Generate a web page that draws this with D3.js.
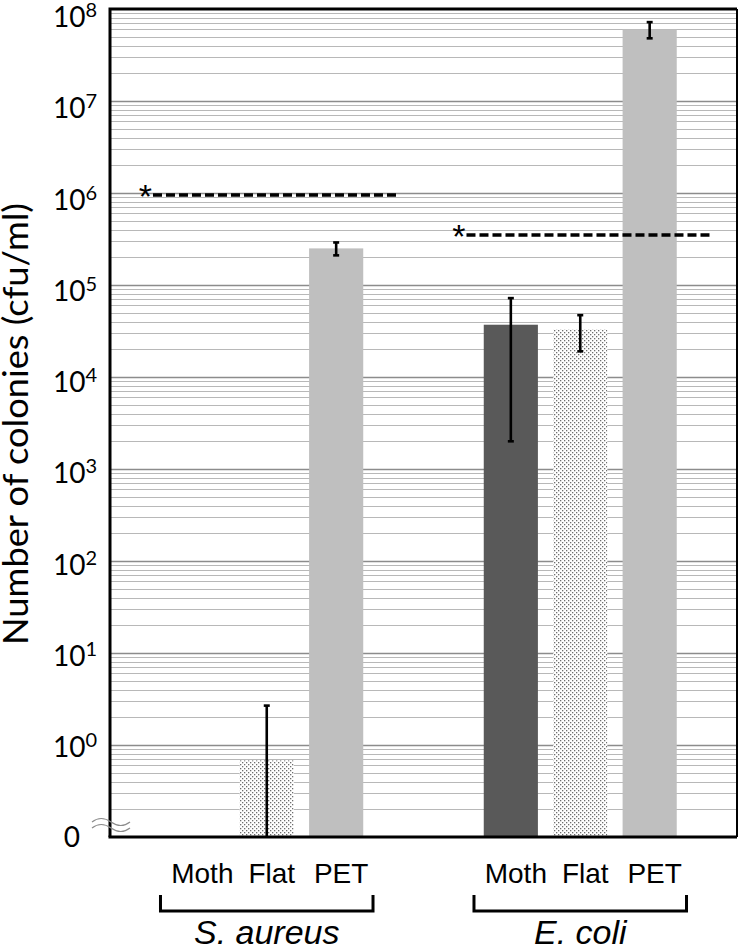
<!DOCTYPE html>
<html>
<head>
<meta charset="utf-8">
<script src="https://cdn.jsdelivr.net/npm/d3@7"></script>
<style>
  body { margin: 0; background: #fff; }
  svg { display: block; }
</style>
</head>
<body>
<svg id="chart" width="740" height="947"></svg>
<script>
// values (cfu/ml), 0 = nothing grew
var groups = ["S. aureus", "E. coli"];
var surfaces = ["Moth", "Flat", "PET"];
var sAureusMean = [0, 0.68, 2.5e5];
var sAureusErr = [0, 2.0, 0.4e5];
var eColiMean = [3.7e4, 3.3e4, 6.0e7];
var eColiErr = [3.5e4, 1.4e4, 1.2e7];
var thresholds = [9.5e5, 3.5e5];   // dashed "*" lines, one per group
var tickExps = [0, 1, 2, 3, 4, 5, 6, 7, 8];

var means = [sAureusMean, eColiMean];
var errs = [sAureusErr, eColiErr];

// note: "top" is taken by window.top, so plot* names
var plotL = 110, plotR = 737, plotT = 9, plotB = 837;
var svg = d3.select("#chart");

var y = d3.scaleLog().domain([0.1, 1e8]).range([plotB, plotT]).clamp(true);
function yv(v) { return v <= 0.1 ? plotB : y(v); }

var x0 = d3.scaleBand().domain(groups).range([plotL, plotR])
  .paddingInner(0.287).paddingOuter(0.1435);
var x1 = d3.scaleBand().domain(surfaces).range([0, x0.bandwidth()])
  .padding(0.22);

var fills = { "Moth": "#595959", "Flat": "url(#dots)", "PET": "#bfbfbf" };

// dotted fill for the flat surface
var pat = svg.append("defs").append("pattern").attr("id", "dots")
  .attr("patternUnits", "userSpaceOnUse").attr("width", 4).attr("height", 4);
pat.append("rect").attr("width", 4).attr("height", 4).attr("fill", "#fff");
pat.append("rect").attr("x", 0).attr("y", 0).attr("width", 1.3).attr("height", 1.3).attr("fill", "#6e6e6e");
pat.append("rect").attr("x", 2).attr("y", 2).attr("width", 1.3).attr("height", 1.3).attr("fill", "#6e6e6e");

// grid lines: major at decades, minor at 2..9
var gridVals = [];
for (var k = -1; k < 8; k++) {
  for (var n = 1; n <= 9; n++) {
    var v = n * Math.pow(10, k);
    if (v > 0.1 && v < 1e8) gridVals.push({ v: v, major: n == 1 });
  }
}
svg.append("g").selectAll("line").data(gridVals).join("line")
  .attr("x1", plotL).attr("x2", plotR)
  .attr("y1", function(d){ return Math.round(y(d.v)) + 0.5; })
  .attr("y2", function(d){ return Math.round(y(d.v)) + 0.5; })
  .attr("stroke", function(d){ return d.major ? "#8c8c8c" : "#b8b8b8"; })
  .attr("stroke-width", function(d){ return d.major ? 1.6 : 1.1; });

// bars
var rows = [];
groups.forEach(function(g, gi){
  surfaces.forEach(function(s, si){
    rows.push({ group: g, surface: s, mean: means[gi][si], err: errs[gi][si] });
  });
});

var bars = svg.append("g");
bars.selectAll("rect").data(rows.filter(function(d){ return d.mean > 0; })).join("rect")
  .attr("x", function(d){ return x0(d.group) + x1(d.surface); })
  .attr("width", x1.bandwidth())
  .attr("y", function(d){ return yv(d.mean); })
  .attr("height", function(d){ return plotB - yv(d.mean); })
  .attr("fill", function(d){ return fills[d.surface]; });

// error bars
var eb = svg.append("g").attr("stroke", "#000").attr("stroke-width", 2.6);
rows.filter(function(d){ return d.err > 0; }).forEach(function(d){
  var cx = x0(d.group) + x1(d.surface) + x1.bandwidth() / 2;
  var hi = yv(d.mean + d.err), lo = yv(d.mean - d.err);
  eb.append("line").attr("x1", cx).attr("x2", cx).attr("y1", hi).attr("y2", lo);
  eb.append("line").attr("x1", cx - 3).attr("x2", cx + 3).attr("y1", hi).attr("y2", hi);
  if (lo < plotB) eb.append("line").attr("x1", cx - 3).attr("x2", cx + 3).attr("y1", lo).attr("y2", lo);
});

// dashed threshold lines with asterisk
groups.forEach(function(g, gi){
  var ty = y(thresholds[gi]);
  var xs = x0(g) - 2, xe = x0(g) + x0.bandwidth() + 20;
  svg.append("line").attr("x1", xs).attr("x2", xe).attr("y1", ty).attr("y2", ty)
    .attr("stroke", "#000").attr("stroke-width", 3.5).attr("stroke-dasharray", "9,4");
  svg.append("text").attr("x", xs - 1).attr("y", ty + 13).attr("text-anchor", "end")
    .attr("font-family", "'Liberation Sans', sans-serif").attr("font-size", 34).text("*");
});

// frame
var axes = svg.append("g").attr("fill", "none").attr("stroke", "#000");
axes.append("path").attr("d", "M" + plotL + "," + plotB + "V" + plotT + "H" + plotR)
  .attr("stroke-width", 3);
axes.append("path").attr("d", "M" + (plotL - 1.5) + "," + plotB + "H" + plotR)
  .attr("stroke-width", 3);
svg.append("line").attr("x1", plotR).attr("x2", plotR).attr("y1", plotT).attr("y2", plotB)
  .attr("stroke", "#000").attr("stroke-width", 2);

// y tick labels 10^n (labels sit a touch lower toward the top, as in the figure)
var ticks = svg.append("g").attr("font-family", "Lato, sans-serif").attr("fill", "#000");
ticks.selectAll("text").data(tickExps).join("text")
  .attr("x", 97).attr("y", function(d){ return y(Math.pow(10, d)) + 12 + 0.75 * d; })
  .attr("text-anchor", "end")
  .each(function(d){
    var t = d3.select(this);
    t.append("tspan").attr("font-size", 28).text("10");
    t.append("tspan").attr("font-size", 20).attr("dy", -10).text(d);
  });
ticks.append("text").attr("x", 80).attr("y", plotB + 10).attr("text-anchor", "end")
  .attr("font-size", 28).text("0");

// axis break marks
var brk = svg.append("g").attr("fill", "none").attr("stroke", "#8c8c8c").attr("stroke-width", 1.2);
[819, 825].forEach(function(by){
  brk.append("path").attr("d", "M92," + (by + 3) + "q9,-7 19,0t19,0");
});

// y axis title
svg.append("text")
  .attr("transform", "translate(28," + 424 + ") rotate(-90)")
  .attr("text-anchor", "middle")
  .attr("font-family", "Lato, sans-serif").attr("font-size", 35)
  .attr("textLength", 442).attr("lengthAdjust", "spacingAndGlyphs")
  .text("Number of colonies (cfu/ml)");

// surface labels, brackets and species names
var cat = svg.append("g").attr("font-family", "'Liberation Sans', Arial, sans-serif").attr("font-size", 28);
rows.forEach(function(d){
  cat.append("text")
    .attr("x", x0(d.group) + x1(d.surface) + x1.bandwidth() / 2 + 5)
    .attr("y", 883).attr("text-anchor", "middle").text(d.surface);
});
groups.forEach(function(g){
  var bx0 = x0(g) + 5.5, bx1 = x0(g) + x0.bandwidth() - 5.5;
  svg.append("path").attr("d", "M" + bx0 + ",895V911H" + bx1 + "V895")
    .attr("fill", "none").attr("stroke", "#000").attr("stroke-width", 3);
  cat.append("text").attr("x", x0(g) + x0.bandwidth() / 2).attr("y", 944)
    .attr("text-anchor", "middle").attr("font-style", "italic")
    .attr("font-size", 34).text(g);
});
</script>
</body>
</html>
